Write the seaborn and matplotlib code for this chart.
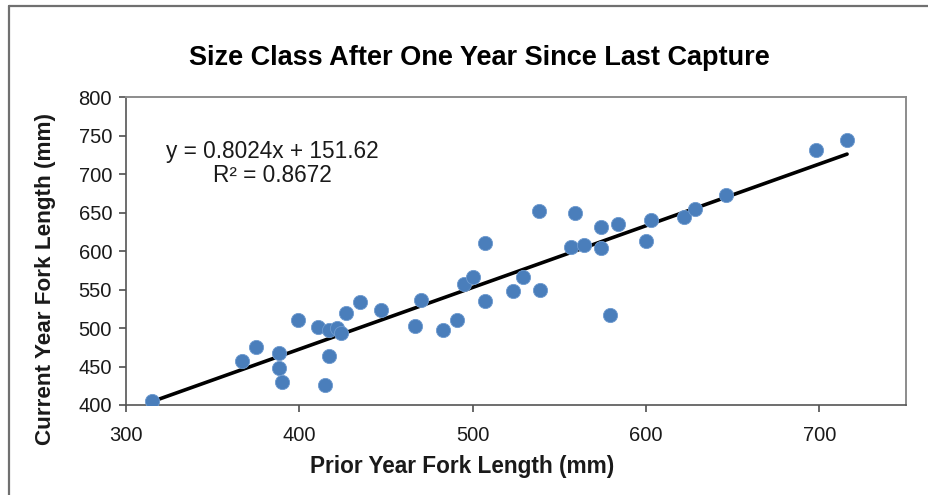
import numpy as np
import pandas as pd
import matplotlib
matplotlib.use("Agg")
import matplotlib.pyplot as plt
from matplotlib.lines import Line2D
import seaborn as sns

# ---- data ----
prior_fl = [315, 367, 375, 388, 388, 390, 399, 411, 415, 417, 417, 422, 424, 427, 435,
            447, 470, 467, 483, 491, 495, 500, 507, 507, 523, 529, 538, 539, 557, 559,
            564, 574, 574, 579, 584, 600, 603, 622, 628, 646, 698, 716]
current_fl = [405, 457, 476, 468, 448, 430, 511, 502, 426, 498, 464, 500, 494, 520, 534,
              524, 537, 503, 498, 510, 557, 567, 610, 535, 548, 567, 652, 550, 605, 649,
              608, 631, 604, 517, 635, 613, 640, 645, 655, 673, 732, 745]
slope = 0.8024
intercept = 151.62
r_squared = 0.8672
x_ticks = [300, 400, 500, 600, 700]
y_ticks = [400, 450, 500, 550, 600, 650, 700, 750, 800]

title = "Size Class After One Year Since Last Capture"
x_label = "Prior Year Fork Length (mm)"
y_label = "Current Year Fork Length (mm)"

df = pd.DataFrame({"prior": prior_fl, "current": current_fl})
x_line = np.array([min(prior_fl), max(prior_fl)])
line_df = pd.DataFrame({"x": x_line, "y": slope * x_line + intercept})

sns.set_style("ticks")
plt.rcParams["font.family"] = ["Liberation Sans", "DejaVu Sans"]

W, H = 929, 495
fig = plt.figure(figsize=(W / 100, H / 100), dpi=100)
L, R, T, B = 126, 906, 97.3, 405
ax = fig.add_axes([L / W, 1 - B / H, (R - L) / W, (B - T) / H])

sns.lineplot(data=line_df, x="x", y="y", ax=ax, color="black", linewidth=2.6, zorder=3)
sns.scatterplot(data=df, x="prior", y="current", ax=ax, s=105, color="#4a7ebb",
                edgecolor="#6f9bd0", linewidth=0.6, zorder=4)

ax.set_xlim(300, 750)
ax.set_ylim(400, 800)
ax.set_xticks(x_ticks)
ax.set_yticks(y_ticks)
ax.set_xticklabels([str(t) for t in x_ticks])
ax.set_yticklabels([str(t) for t in y_ticks])
ax.set_xlabel("")
ax.set_ylabel("")
ax.tick_params(axis="both", direction="out", length=5, width=1.1, color="#404040",
               labelsize=14.5, labelcolor="#1a1a1a")
ax.tick_params(axis="x", pad=10)
ax.tick_params(axis="y", pad=5)
for side in ["top", "right"]:
    ax.spines[side].set_visible(True)
    ax.spines[side].set_color("#8c8c8c")
    ax.spines[side].set_linewidth(1.4)
for side in ["left", "bottom"]:
    ax.spines[side].set_color("#555555")
    ax.spines[side].set_linewidth(1.2)
ax.set_facecolor("white")

fig.text(479 / W, 1 - 58 / H, title, ha="center", va="center", fontsize=19.5,
         fontweight="bold", color="black")
fig.text(462 / W, 1 - 466 / H, x_label, ha="center", va="center", fontsize=16.3,
         fontweight="bold", color="#1a1a1a")
fig.text(46 / W, 1 - 279 / H, y_label, ha="center", va="center", fontsize=16.2,
         fontweight="bold", rotation=90, color="#1a1a1a")
fig.text(272 / W, 1 - 151.5 / H, f"y = {slope}x + {intercept}", ha="center",
         va="center", fontsize=16.3, color="#1a1a1a")
fig.text(272 / W, 1 - 175.5 / H, f"R² = {r_squared}", ha="center", va="center",
         fontsize=16.3, color="#1a1a1a")

# chart-area border (left and top edges visible in the reference)
fig.add_artist(Line2D([9 / W, 9 / W], [0, 1 - 6 / H], transform=fig.transFigure,
                      color="#707070", linewidth=1.6))
fig.add_artist(Line2D([9 / W, 1], [1 - 6 / H, 1 - 6 / H], transform=fig.transFigure,
                      color="#707070", linewidth=1.6))

fig.savefig("out.png", dpi=100)
